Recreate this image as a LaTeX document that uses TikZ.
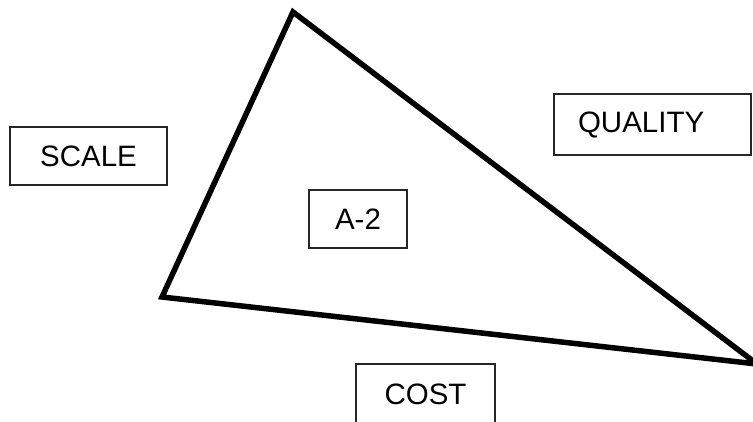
\documentclass[tikz,border=0pt]{standalone}
\usepackage{fontspec}
\setmainfont{Liberation Sans}
\usetikzlibrary{positioning}

\begin{document}
\begin{tikzpicture}[
    x=1pt, y=-1pt,
    label box/.style={
        draw=black!85,
        line width=1.3pt,
        align=center,
        inner sep=0pt,
        minimum height=58pt,
        font=\fontsize{29.5}{32}\selectfont
    },
    edge/.style={line width=5.5pt, line join=miter}
]
\clip (0,0) rectangle (753,421);
\useasboundingbox (0,0) rectangle (753,421);

\coordinate (apex) at (293,12);
\coordinate (left) at (162,297);
\coordinate (right) at (757,364);

\node[label box, minimum width=157pt] (scale) at (88.5,156) {SCALE};
\node[label box, minimum height=61pt, text width=149pt, inner xsep=24pt, align=left] (quality) at (652.5,124.5) {QUALITY};
\node[label box, minimum width=98pt] (a2) at (358,219) {A-2};
\node[label box, minimum width=139pt, minimum height=60pt] (cost) at (425.5,394) {COST};

\draw[edge] (apex) -- (left) -- (right) -- cycle;
\end{tikzpicture}
\end{document}
